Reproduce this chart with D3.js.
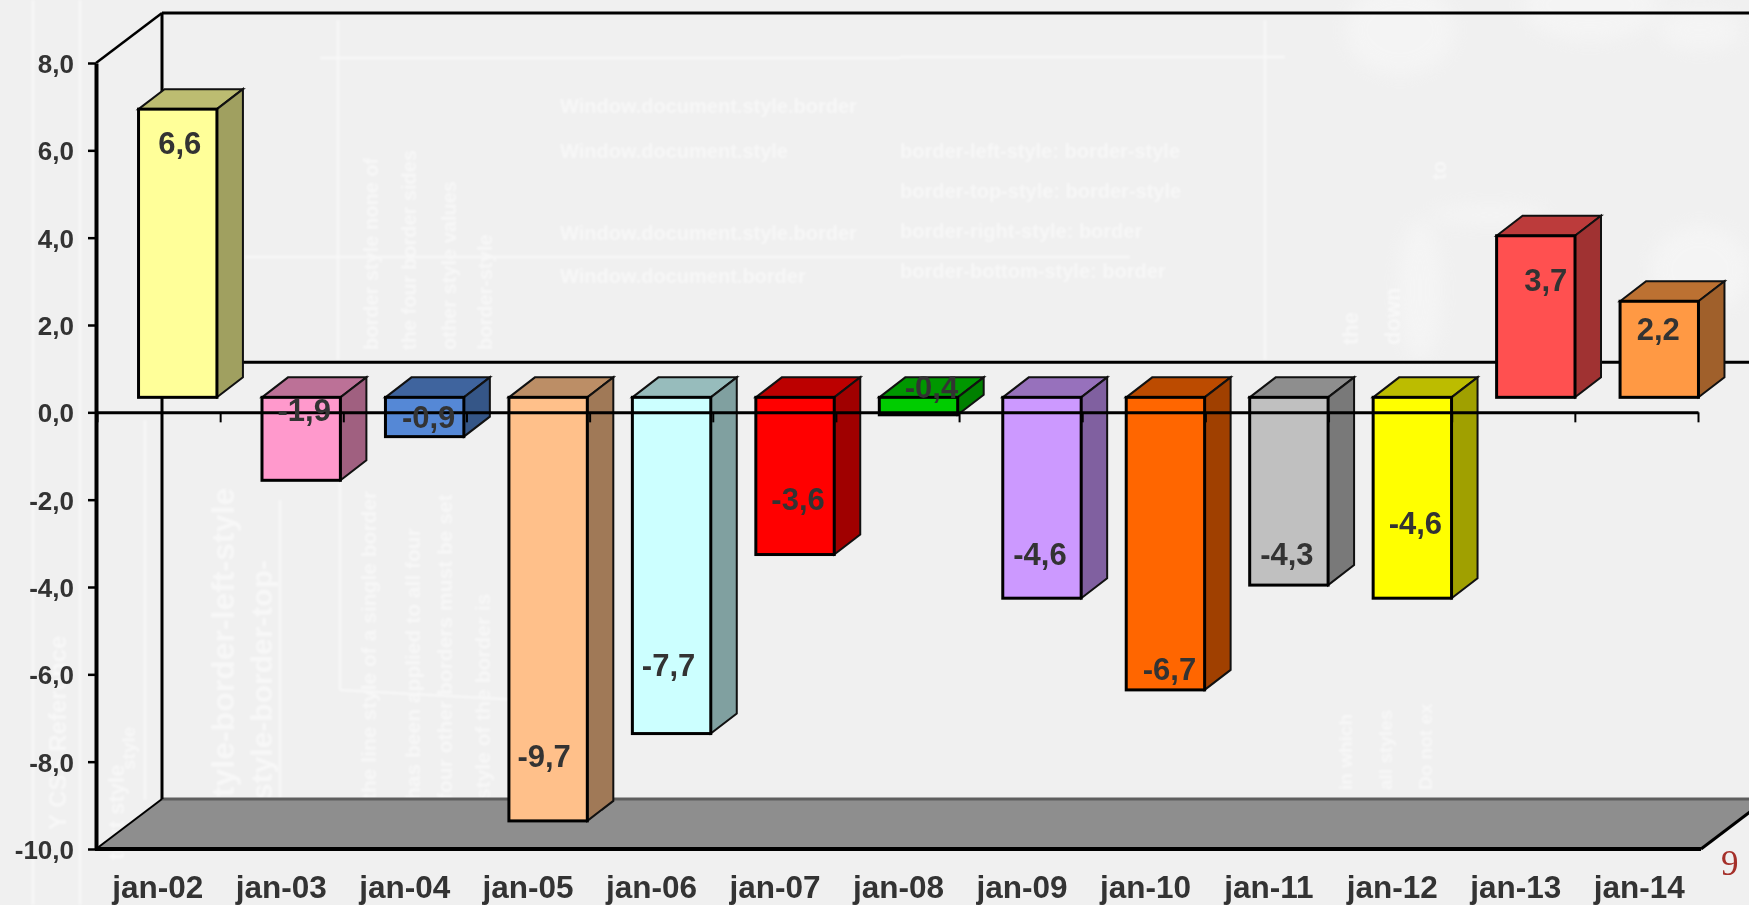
<!DOCTYPE html>
<html>
<head>
<meta charset="utf-8">
<script src="https://cdn.jsdelivr.net/npm/d3@7"></script>
<style>
  html, body { margin: 0; padding: 0; background: #f0f0f0; overflow: hidden; }
  svg { display: block; }
  text { font-family: "Liberation Sans", Arial, sans-serif; }
</style>
</head>
<body>
<svg id="chart"></svg>
<script>
// chart data
const categories = ["jan-02", "jan-03", "jan-04", "jan-05", "jan-06", "jan-07", "jan-08",
                    "jan-09", "jan-10", "jan-11", "jan-12", "jan-13", "jan-14"];
const values = [6.6, -1.9, -0.9, -9.7, -7.7, -3.6, -0.4, -4.6, -6.7, -4.3, -4.6, 3.7, 2.2];
const barColors = ["#FFFF99", "#FF99CC", "#5588D6", "#FFC08A", "#CCFFFF", "#FF0000", "#00CC00",
                   "#CC99FF", "#FF6600", "#C0C0C0", "#FFFF00", "#FF5050", "#FF9944"];
const yTicks = [8, 6, 4, 2, 0, -2, -4, -6, -8, -10];
const pageNumber = "9";

// where each value label sits, relative to the middle of the bar and its end
const labelNudgeX = [2, 3, 4, -4, -3, 3, 13, -2, 4, -2, 3, 10, -1];
const labelNudgeY = [34, -70, -20, -65, -69, -56, -28, -44, -21, -31, -75, 44, 28];

// faint text of the backdrop picture: text, x, y, size
const backdropVertical = [
  ["style-border-left-style", 234, 815, 32], ["-style-border-top-", 272, 810, 30],
  ["the line style of a single border", 376, 800, 21], ["has been applied to all four", 420, 800, 21],
  ["four other borders must be set", 452, 800, 21], ["style of the border is", 490, 800, 21],
  ["style", 135, 770, 19], ["Y CSS Reference", 66, 830, 24], ["text style", 124, 860, 22],
  ["border style none of", 378, 350, 20], ["the four border sides", 416, 350, 20],
  ["other style values", 456, 350, 20], ["border-style", 492, 350, 20],
  ["in which", 1352, 790, 19], ["all styles", 1392, 790, 19], ["Do not ex", 1432, 790, 19],
  ["the", 1358, 345, 22], ["down", 1400, 345, 22], ["to", 1446, 180, 20]
];
const backdropHorizontal = [
  ["Window.document.style.border", 560, 113, 20], ["Window.document.style", 560, 158, 20],
  ["Window.document.style.border", 560, 240, 20], ["Window.document.border", 560, 283, 20],
  ["border-left-style: border-style", 900, 158, 20], ["border-top-style: border-style", 900, 198, 20],
  ["border-right-style: border", 900, 238, 20], ["border-bottom-style: border", 900, 278, 20]
];
// long faint rules of the backdrop: x1, y1, x2, y2
const backdropRules = [[245, 257, 1130, 257], [320, 58, 900, 58], [900, 57, 1285, 57], [338, 20, 338, 360],
                       [33, 0, 33, 905], [80, 0, 80, 905], [145, 420, 145, 800], [280, 500, 280, 800], [340, 440, 340, 690],
                       [340, 690, 520, 700], [1265, 20, 1265, 360]];
// pale blotches top right: cx, cy, rx, ry
const backdropBlots = [[1400, 30, 55, 45], [1590, 5, 68, 36], [1420, 290, 22, 70], [1490, 215, 60, 10],
                       [1700, 30, 40, 20], [1700, 270, 50, 45]];

const width = 1749, height = 905;

const svg = d3.select("#chart").attr("width", width).attr("height", height);

const locale = d3.formatLocale({decimal: ",", thousands: ".", grouping: [3], currency: ["", ""], minus: "-"});
const fmt = locale.format(".1f");

const x = d3.scaleBand().domain(categories).range([96, 1701]);
const xEdges = d3.scaleLinear().domain([0, categories.length]).range([97, 1698]);
const y = d3.scaleLinear().domain([-10, 8]).range([849, 63]);

// 3d offsets: wall depth, bar position in the depth, bar thickness
const wall = {dx: 66, dy: -50};
const front = {dx: 20, dy: -15};
const depth = {dx: 26, dy: -20};
const barW = x.bandwidth() * 0.635;

const points = p => p.map(d => d.join(",")).join(" ");

// backdrop
svg.append("rect").attr("width", width).attr("height", height).attr("fill", "#f0f0f0");

const defs = svg.append("defs");
defs.append("filter").attr("id", "smudge").append("feGaussianBlur").attr("stdDeviation", 0.9);
defs.append("filter").attr("id", "smudge2")
  .attr("x", "-50%").attr("y", "-50%").attr("width", "200%").attr("height", "200%")
  .append("feGaussianBlur").attr("stdDeviation", 9);

svg.append("g").attr("filter", "url(#smudge2)").attr("opacity", 0.3)
  .selectAll("ellipse").data(backdropBlots).join("ellipse")
  .attr("cx", d => d[0]).attr("cy", d => d[1])
  .attr("rx", d => d[2]).attr("ry", d => d[3])
  .attr("fill", "#ffffff");

const back = svg.append("g").attr("fill", "#ffffff").attr("opacity", 0.5)
  .attr("font-weight", "bold").attr("filter", "url(#smudge)");

backdropVertical.forEach(d => {
  back.append("text")
    .attr("transform", "translate(" + d[1] + "," + d[2] + ") rotate(-90)")
    .attr("font-size", d[3])
    .text(d[0]);
});
backdropHorizontal.forEach(d => {
  back.append("text").attr("x", d[1]).attr("y", d[2]).attr("font-size", d[3]).text(d[0]);
});

back.selectAll("line").data(backdropRules).join("line")
  .attr("x1", d => d[0]).attr("y1", d => d[1])
  .attr("x2", d => d[2]).attr("y2", d => d[3])
  .attr("stroke", "#ffffff").attr("stroke-width", 2.5);

// walls and floor
const x0 = x.range()[0], x1 = x.range()[1];
const yTop = y(8), yBot = y(-10), yZero = y(0);

svg.append("polygon")
  .attr("points", points([[x0, yBot], [x0 + wall.dx, yBot + wall.dy], [x1 + wall.dx, yBot + wall.dy], [x1, yBot]]))
  .attr("fill", "#8e8e8e");
svg.append("line")
  .attr("x1", x0 + wall.dx).attr("x2", width)
  .attr("y1", yBot + wall.dy).attr("y2", yBot + wall.dy)
  .attr("stroke", "#5e5e5e").attr("stroke-width", 3);

const frame = svg.append("g").attr("stroke", "#000").attr("fill", "none");
frame.append("line").attr("x1", x0 + wall.dx).attr("x2", x0 + wall.dx)
  .attr("y1", yTop + wall.dy).attr("y2", yBot + wall.dy).attr("stroke-width", 3);
frame.append("line").attr("x1", x0 + wall.dx).attr("x2", width)
  .attr("y1", yTop + wall.dy).attr("y2", yTop + wall.dy).attr("stroke-width", 3);
frame.append("line").attr("x1", x0).attr("x2", x0 + wall.dx)
  .attr("y1", yTop).attr("y2", yTop + wall.dy).attr("stroke-width", 2.5);
frame.append("line").attr("x1", x0).attr("x2", x0 + wall.dx)
  .attr("y1", yBot).attr("y2", yBot + wall.dy).attr("stroke-width", 2);
frame.append("line").attr("x1", x1).attr("x2", x1 + wall.dx)
  .attr("y1", yBot).attr("y2", yBot + wall.dy).attr("stroke-width", 3);
// zero line on the back wall
frame.append("line").attr("x1", x0 + wall.dx).attr("x2", width)
  .attr("y1", yZero + wall.dy).attr("y2", yZero + wall.dy).attr("stroke-width", 3);
// bottom edge
frame.append("line").attr("x1", x0 - 1).attr("x2", x1)
  .attr("y1", yBot).attr("y2", yBot).attr("stroke-width", 4);

// left axis
const yAxis = svg.append("g")
  .attr("transform", "translate(" + x0 + ",0)")
  .call(d3.axisLeft(y).tickValues(yTicks).tickFormat(fmt).tickSize(8).tickSizeOuter(0).tickPadding(14));
yAxis.select(".domain").attr("stroke-width", 4);
yAxis.selectAll(".tick line").attr("stroke-width", 2.5);
yAxis.selectAll("text").attr("font-size", 26).attr("font-weight", "bold").attr("fill", "#333").attr("dy", "0.36em");

// bars
const bars = svg.selectAll("g.bar")
  .data(values)
  .join("g")
  .attr("class", "bar");

const barLeft = (d, i) => x(categories[i]) + (x.bandwidth() - barW) / 2 + front.dx;
const barA = d => y(Math.max(d, 0)) + front.dy;  // upper edge
const barB = d => y(Math.min(d, 0)) + front.dy;  // lower edge

// top face
bars.append("polygon")
  .attr("points", (d, i) => {
    const l = barLeft(d, i), t = barA(d);
    return points([[l, t], [l + depth.dx, t + depth.dy], [l + barW + depth.dx, t + depth.dy], [l + barW, t]]);
  })
  .attr("fill", (d, i) => d3.rgb(barColors[i]).darker(0.85))
  .attr("stroke", "#111").attr("stroke-width", 2);

// side face
bars.append("polygon")
  .attr("points", (d, i) => {
    const r = barLeft(d, i) + barW, t = barA(d), b = barB(d);
    return points([[r, t], [r + depth.dx, t + depth.dy], [r + depth.dx, b + depth.dy], [r, b]]);
  })
  .attr("fill", (d, i) => d3.rgb(barColors[i]).darker(1.3))
  .attr("stroke", "#111").attr("stroke-width", 2);

// front face
bars.append("rect")
  .attr("x", barLeft)
  .attr("y", barA)
  .attr("width", barW)
  .attr("height", d => barB(d) - barA(d))
  .attr("fill", (d, i) => barColors[i])
  .attr("stroke", "#000").attr("stroke-width", 3);

// zero axis runs over the bars
const zeroAxis = svg.append("g")
  .attr("transform", "translate(0," + yZero + ")")
  .call(d3.axisBottom(xEdges).tickValues(d3.range(categories.length + 1)).tickFormat("").tickSize(10).tickSizeOuter(0));
zeroAxis.select(".domain").attr("stroke-width", 3);
zeroAxis.selectAll(".tick line").attr("stroke-width", 2);

// value labels
svg.selectAll("text.value")
  .data(values)
  .join("text")
  .attr("class", "value")
  .attr("x", (d, i) => barLeft(d, i) + barW / 2 + labelNudgeX[i])
  .attr("y", (d, i) => (d < 0 ? barB(d) : barA(d)) + labelNudgeY[i])
  .attr("dy", "0.36em")
  .attr("text-anchor", "middle")
  .attr("font-size", 31)
  .attr("font-weight", "bold")
  .attr("fill", "#333")
  .text(d => fmt(d));

// category labels
svg.selectAll("text.cat")
  .data(categories)
  .join("text")
  .attr("class", "cat")
  .attr("x", d => x(d) + x.bandwidth() / 2)
  .attr("y", 898)
  .attr("text-anchor", "middle")
  .attr("font-size", 31.5)
  .attr("font-weight", "bold")
  .attr("fill", "#333")
  .text(d => d);

// page number
svg.append("text")
  .attr("x", 1721).attr("y", 875)
  .attr("font-size", 35)
  .attr("fill", "#A5302A")
  .style("font-family", "'Liberation Serif', serif")
  .text(pageNumber);
</script>
</body>
</html>
